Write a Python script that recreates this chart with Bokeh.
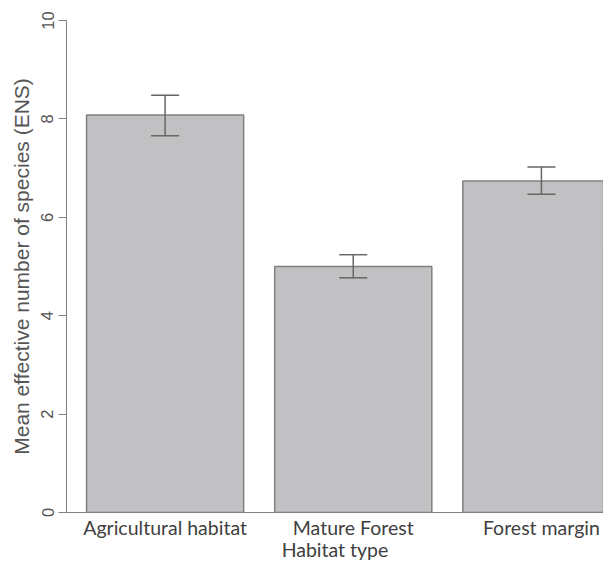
from bokeh.plotting import figure
from bokeh.models import ColumnDataSource, Range1d, FixedTicker, Whisker, TeeHead
from bokeh.embed import file_html
from bokeh.resources import INLINE

categories = ["Agricultural habitat", "Mature Forest", "Forest margin"]
means = [8.08, 5.00, 6.74]
upper = [8.48, 5.24, 7.02]
lower = [7.66, 4.77, 6.47]
y_ticks = [0, 2, 4, 6, 8, 10]
x_title = "Habitat type"
y_title = "Mean effective number of species (ENS)"

xs = list(range(len(categories)))
src = ColumnDataSource(dict(x=xs, top=means, upper=upper, lower=lower))

p = figure(width=603, height=563, output_backend="svg", toolbar_location=None,
           x_range=Range1d(-0.524, 2.33), y_range=Range1d(0, 10),
           min_border_left=66, min_border_right=0, min_border_top=20, min_border_bottom=49)

p.vbar(x="x", top="top", width=0.835, source=src, fill_color="#c1c1c3",
       line_color="#808080", line_width=1.5)

w = Whisker(base="x", upper="upper", lower="lower", source=src, level="overlay",
            line_color="#666666", line_width=1.5,
            upper_head=TeeHead(size=28, line_color="#666666", line_width=1.5),
            lower_head=TeeHead(size=28, line_color="#666666", line_width=1.5))
p.add_layout(w)

p.xgrid.visible = False
p.ygrid.visible = False
p.outline_line_color = None
p.background_fill_color = "white"

# y axis
ya = p.yaxis[0]
ya.ticker = FixedTicker(ticks=y_ticks)
ya.axis_label = y_title
ya.axis_label_text_font = "Liberation Sans"
ya.axis_label_text_font_style = "normal"
ya.axis_label_text_font_size = "21px"
ya.axis_label_text_color = "#555555"
ya.axis_label_standoff = 6
ya.major_label_text_font = "Liberation Sans"
ya.major_label_text_font_size = "16.5px"
ya.major_label_text_color = "#555555"
ya.major_label_orientation = "vertical"
ya.major_label_standoff = 5
ya.major_tick_out = 8
ya.major_tick_in = 0
ya.minor_tick_out = 0
ya.minor_tick_in = 0
ya.axis_line_color = "#808080"
ya.major_tick_line_color = "#808080"

# x axis
xa = p.xaxis[0]
xa.ticker = FixedTicker(ticks=xs)
xa.major_label_overrides = {i: c for i, c in zip(xs, categories)}
xa.axis_label = x_title
xa.axis_label_text_font = "Lato"
xa.axis_label_text_font_style = "normal"
xa.axis_label_text_font_size = "19.5px"
xa.axis_label_text_color = "#404040"
xa.axis_label_standoff = -4
xa.major_label_text_font = "Lato"
xa.major_label_text_font_size = "19.5px"
xa.major_label_text_color = "#404040"
xa.major_label_standoff = 3
xa.major_tick_out = 0
xa.major_tick_in = 0
xa.minor_tick_out = 0
xa.minor_tick_in = 0
xa.axis_line_color = "#808080"

open("out.html", "w").write(file_html(p, INLINE))
